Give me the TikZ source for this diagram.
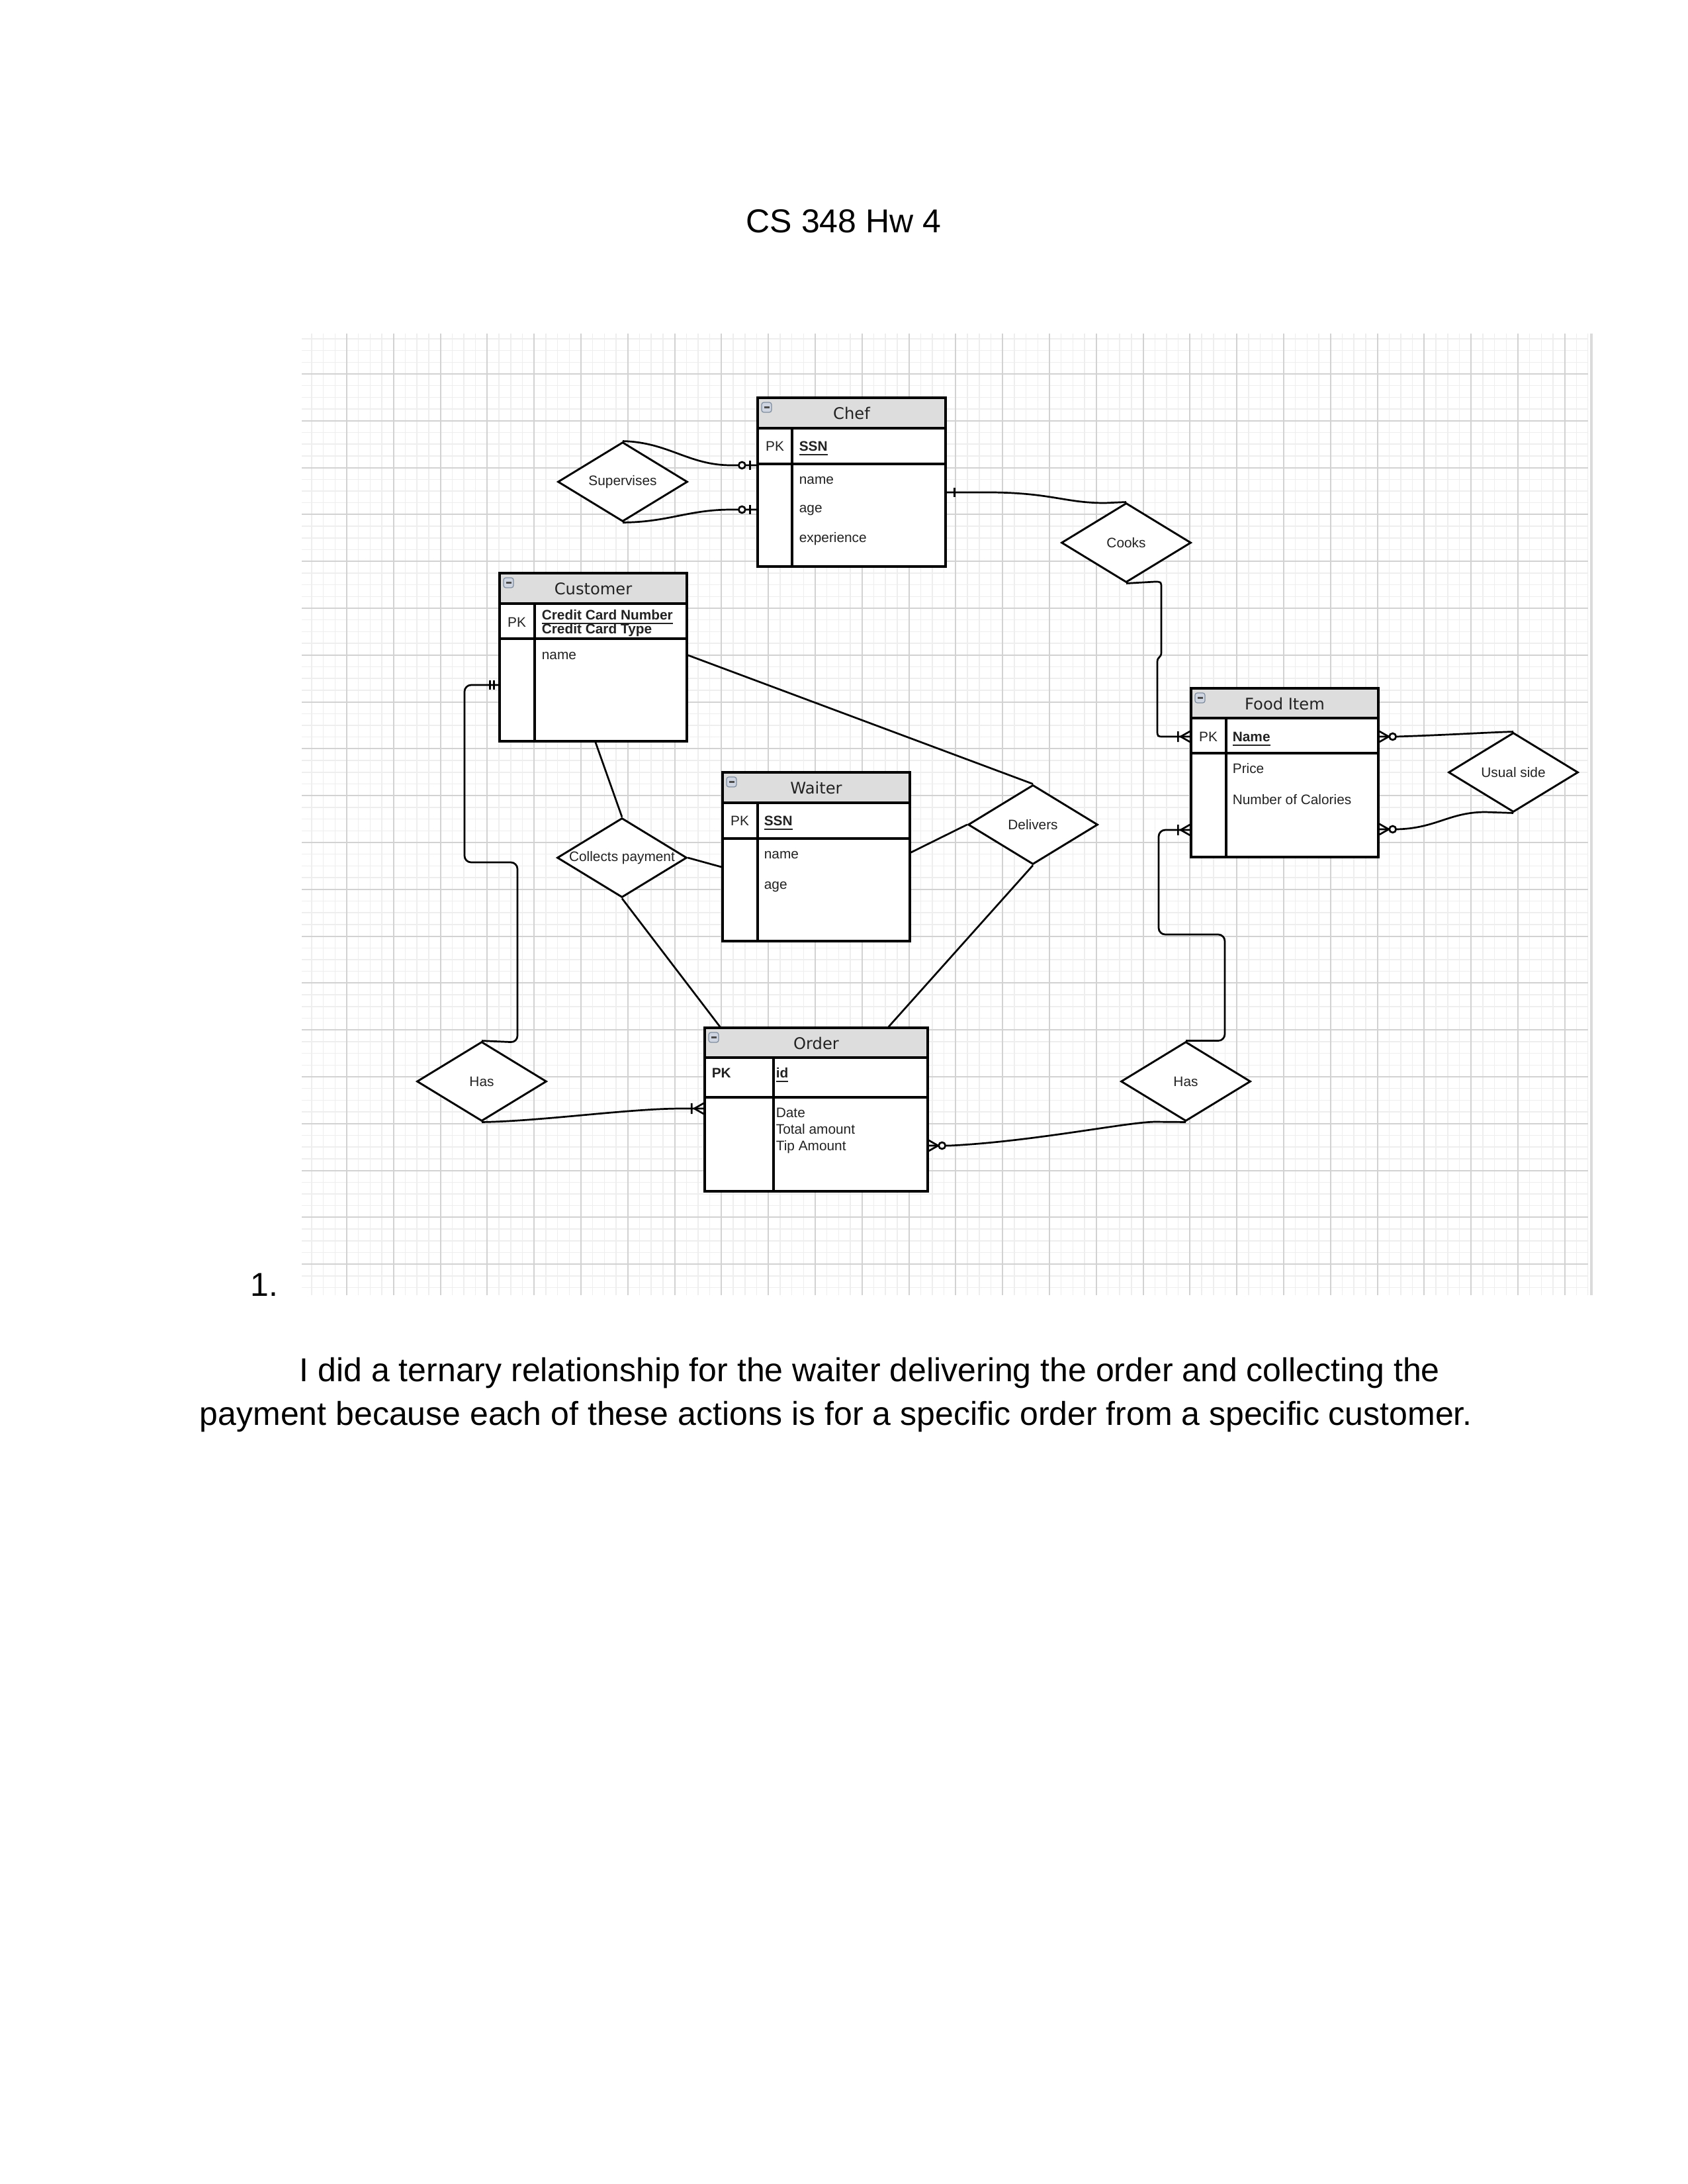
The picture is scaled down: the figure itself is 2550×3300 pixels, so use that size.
\documentclass[tikz,border=0pt]{standalone}
\usepackage{fontspec}
\setmainfont{Liberation Sans}
\newfontfamily\dvs{DejaVu Sans}
\usetikzlibrary{shapes.geometric,fit,calc}
\definecolor{gridminor}{HTML}{EEEEEE}
\definecolor{gridmajor}{HTML}{D2D2D2}
\definecolor{hdr}{HTML}{DDDDDD}
\definecolor{iconfill}{HTML}{CFD6E1}
\definecolor{iconline}{HTML}{7F8C9E}
\definecolor{txt}{HTML}{222222}
\tikzset{
  conn/.style={line width=0.65pt, draw=black},
  tblline/.style={line width=0.8pt, draw=black},
  tblbox/.style={draw=black, line width=0.8pt, inner sep=0pt, rectangle},
  dia/.style={shape=diamond, draw=black, fill=white, line width=0.7pt, inner sep=0pt,
              minimum width=47.04pt, minimum height=28.8pt},
  attr/.style={anchor=base west, inner sep=0pt, text=txt, font=\fontsize{5}{6}\selectfont},
  pktext/.style={anchor=base, inner sep=0pt, text=txt, font=\fontsize{5}{6}\selectfont},
  hdrtext/.style={anchor=base, inner sep=0pt, text=txt, font=\dvs\fontsize{5.8}{7}\selectfont},
  dlabel/.style={inner sep=0pt, text=txt, font=\fontsize{5}{6}\selectfont},
  doctext/.style={inner sep=0pt, text=black, font=\fontsize{12}{14}\selectfont},
  erone/.pic={\draw[conn] (12,-7) -- (12,7);},
  eroneone/.pic={\draw[conn] (7,-7) -- (7,7) (13,-7) -- (13,7);},
  erzeroone/.pic={\draw[conn] (10,-7) -- (10,7); \draw[conn,fill=white] (22,0) circle[radius=1.2pt];},
  eronemany/.pic={\draw[conn] (0,-8) -- (14,0) -- (0,8) (18,-8) -- (18,8);},
  erzeromany/.pic={\draw[conn] (0,-8) -- (14,0) -- (0,8); \draw[conn,fill=white] (20,0) circle[radius=1.2pt];},
}
\newcommand\ERicon[2]{%
  \draw[iconline, fill=iconfill, line width=0.3pt, rounded corners=0.8pt] (#1+6,#2+7) rectangle (#1+21,#2+22);
  \draw[black!70, line width=0.6pt] (#1+9.5,#2+14.5) -- (#1+17.5,#2+14.5);}
\newcommand\ERtable[8]{%
  \fill[white] (#2,#3) rectangle (#4,#5);
  \fill[hdr] (#2,#3) rectangle (#4,#6);
  \draw[tblline] (#2,#6) -- (#4,#6) (#2,#7) -- (#4,#7) (#8,#6) -- (#8,#5);
  \node[tblbox, fit={(#2,#3) (#4,#5)}] (#1) {};
  \ERicon{#2}{#3}}
\begin{document}
\begin{tikzpicture}[x=0.24pt, y=-0.24pt]
\useasboundingbox (0,0) rectangle (2550,3300);
\fill[white] (0,0) rectangle (2550,3300);
% grid
\begin{scope}
\clip (456,504) rectangle (2400,1957);
\foreach \k in {-4,...,106} \draw[gridminor, line width=0.35pt] (524+17.7*\k,504) -- (524+17.7*\k,1957);
\foreach \k in {-4,...,79} \draw[gridminor, line width=0.35pt] (456,565+17.7*\k) -- (2400,565+17.7*\k);
\foreach \k in {-1,...,26} \draw[gridmajor, line width=0.45pt] (524+70.8*\k,504) -- (524+70.8*\k,1957);
\foreach \k in {-1,...,19} \draw[gridmajor, line width=0.45pt] (456,565+70.8*\k) -- (2400,565+70.8*\k);
\end{scope}
\draw[gridmajor!80, line width=0.8pt] (2405,504) -- (2405,1957);

% tables
\ERtable{chef}{1145}{601}{1429}{856}{647}{701}{1197}
\ERtable{cust}{755}{866}{1038}{1120}{912}{965}{808}
\ERtable{waiter}{1092}{1167}{1375}{1422}{1213}{1267}{1145}
\ERtable{order}{1065}{1553}{1402}{1800}{1598}{1658}{1169}
\ERtable{food}{1800}{1040}{2083}{1295}{1085}{1138}{1853}

% diamonds
\node[dia] (sup) at (941,728) {};
\node[dia] (cooks) at (1702,820) {};
\node[dia] (deliv) at (1561,1246) {};
\node[dia] (coll) at (940,1296) {};
\node[dia] (has1) at (728,1634) {};
\node[dia] (has2) at (1792,1634) {};
\node[dia] (usual) at (2287,1167) {};

% connectors
\draw[conn] (sup.north) .. controls (1010,668) and (1040,703) .. (1105,703) -- (chef.west |- 0,703);
\draw[conn] (sup.south) .. controls (1010,789) and (1040,770) .. (1105,770) -- (chef.west |- 0,770);
\draw[conn] (chef.east |- 0,744) -- (1500,744) .. controls (1590,745) and (1610,760) .. (1670,760) -- (cooks.north);
\draw[conn] (cooks.south) -- (1745,879) .. controls (1755,879) .. (1755,889) -- (1755,986)
   .. controls (1755,994) and (1749,992) .. (1749,1000) -- (1749,1103) .. controls (1749,1113) .. (1759,1113) -- (food.west |- 0,1113);
\draw[conn, rounded corners=2.4pt] (cust.west |- 0,1035) -- (702,1035) -- (702,1303) -- (782,1303) -- (782,1575) -- (has1.north);
\draw[conn] (has1.south) .. controls (820,1694) and (950,1675) .. (1030,1675) -- (order.west |- 0,1675);
\draw[conn] (order.east |- 0,1731) -- (1435,1731) .. controls (1560,1725) and (1700,1696) .. (1745,1695) -- (has2.south);
\draw[conn, rounded corners=2.4pt] (food.west |- 0,1254) -- (1751,1254) -- (1751,1412) -- (1851,1412) -- (1851,0 |- has2.north) -- (has2.north);
\draw[conn] (food.east |- 0,1113) -- (2110,1113) .. controls (2200,1110) and (2240,1107) .. (usual.north);
\draw[conn] (food.east |- 0,1253) -- (2110,1253) .. controls (2170,1252) and (2190,1227) .. (2245,1227) -- (usual.south);
\draw[conn] (cust.east |- 0,990) -- (deliv.north);
\draw[conn] (waiter.east |- 0,1288) -- (deliv.west);
\draw[conn] (deliv.south) -- (1343,0 |- order.north);
\draw[conn] (900,0 |- cust.south) -- (coll.north);
\draw[conn] (coll.east) -- (waiter.west |- 0,1310);
\draw[conn] (coll.south) -- (1088,0 |- order.north);

% markers
\pic[rotate=180] at (chef.west |- 0,703) {erzeroone};
\pic[rotate=180] at (chef.west |- 0,770) {erzeroone};
\pic at (chef.east |- 0,744) {erone};
\pic[rotate=180] at (food.west |- 0,1113) {eronemany};
\pic[rotate=180] at (cust.west |- 0,1035) {eroneone};
\pic[rotate=180] at (order.west |- 0,1675) {eronemany};
\pic at (order.east |- 0,1731) {erzeromany};
\pic[rotate=180] at (food.west |- 0,1254) {eronemany};
\pic at (food.east |- 0,1113) {erzeromany};
\pic at (food.east |- 0,1253) {erzeromany};

% diamond labels
\node[dlabel] at (sup.center) {Supervises};
\node[dlabel] at (cooks.center) {Cooks};
\node[dlabel] at (deliv.center) {Delivers};
\node[dlabel] at (coll.center) {Collects payment};
\node[dlabel] at (has1.center) {Has};
\node[dlabel] at (has2.center) {Has};
\node[dlabel] at (usual.center) {Usual side};

% table texts
\node[hdrtext] (chefh) at (1287,633) {Chef};
\node[pktext] (chefpk) at (1171,681) {PK};
\node[attr] (chefssn) at (1207,681) {\underline{\textbf{SSN}}};
\node[attr] (chefname) at (1207,731) {name};
\node[attr] (chefage) at (1207,774) {age};
\node[attr] (chefexp) at (1207,819) {experience};

\node[hdrtext] (custh) at (896.5,898) {Customer};
\node[pktext] (custpk) at (781,947) {PK};
\node[attr] (custccn) at (818,936) {\underline{\textbf{Credit Card Number}}};
\node[attr] (custcct) at (818,957) {\textbf{Credit Card Type}};
\node[attr] (custname) at (818,996) {name};

\node[hdrtext] (waiterh) at (1233.5,1199) {Waiter};
\node[pktext] (waiterpk) at (1118,1247) {PK};
\node[attr] (waiterssn) at (1154,1247) {\underline{\textbf{SSN}}};
\node[attr] (waitername) at (1154,1297) {name};
\node[attr] (waiterage) at (1154,1343) {age};

\node[hdrtext] (orderh) at (1233.5,1585) {Order};
\node[attr] (orderpk) at (1075,1628) {\textbf{PK}};
\node[attr] (orderid) at (1172,1628) {\underline{\textbf{id}}};
\node[attr] (orderdate) at (1172,1688) {Date};
\node[attr] (ordertot) at (1172,1713) {Total amount};
\node[attr] (ordertip) at (1172,1738) {Tip Amount};

\node[hdrtext] (foodh) at (1941.5,1072) {Food Item};
\node[pktext] (foodpk) at (1826,1120) {PK};
\node[attr] (foodname) at (1862,1120) {\underline{\textbf{Name}}};
\node[attr] (foodprice) at (1862,1168) {Price};
\node[attr] (foodcal) at (1862,1215) {Number of Calories};

% page text
\node[doctext, anchor=base] (title) at (1275,351) {CS 348 Hw 4};
\node[doctext, anchor=base west] (num) at (378,1958) {1.};
\node[doctext, anchor=base west] (line1) at (452,2087) {I did a ternary relationship for the waiter delivering the order and collecting the};
\node[doctext, anchor=base west] (line2) at (301,2153) {payment because each of these actions is for a specific order from a specific customer.};
\end{tikzpicture}
\end{document}
